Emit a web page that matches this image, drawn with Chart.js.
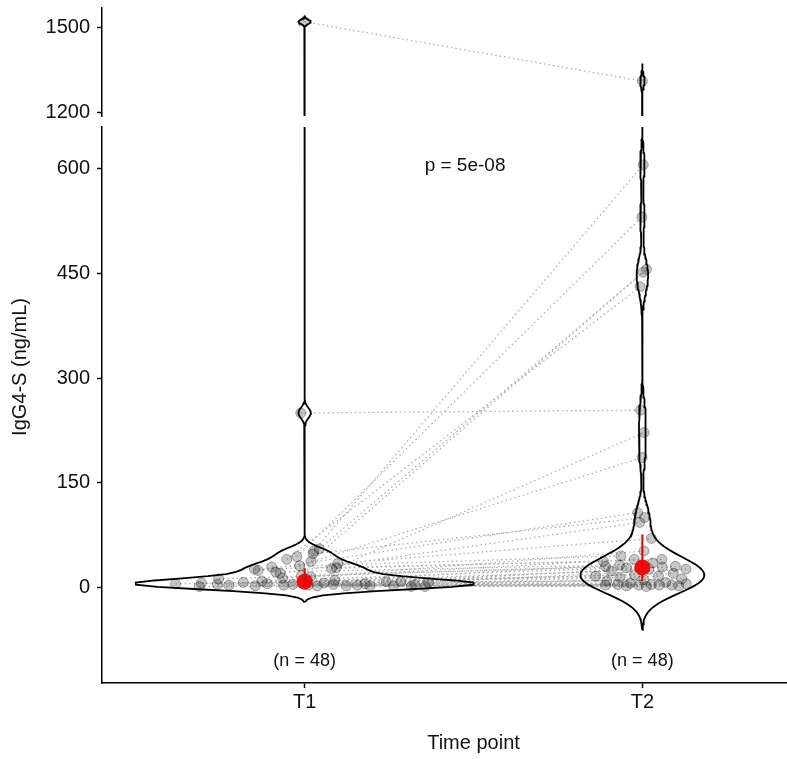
<!DOCTYPE html>
<html>
<head>
<meta charset="utf-8">
<script src="https://cdn.jsdelivr.net/npm/chart.js@4.4.0/dist/chart.umd.min.js"></script>
<style>
  html, body { margin: 0; padding: 0; background: #fff; overflow: hidden; }
  #wrap { position: relative; width: 787px; height: 759px; overflow: hidden; }
  #wrap canvas { position: absolute; left: 0; top: 0; }
</style>
</head>
<body>
<div id="wrap">
  <canvas id="bottomChart" width="853" height="759"></canvas>
  <canvas id="topChart" width="853" height="759"></canvas>
</div>
<script>
// Categorias e valores pareados (mesmo indice = mesmo individuo)
const groups = ['T1', 'T2'];
const t1Values = [1520, 250, 52, 44, 55, 37, 40, 28, 31, 24, 48, 20, 34, 15, 29, 27, 13, 26, 10, 22, 8, 17, 12, 5,
                  9, 7, 6, 4, 8, 3, 5, 2, 7, 4, 3, 6, 2, 5, 1, 4, 3, 2, 4, 1, 3, 2, 1, 2];
const t2Values = [1310, 254, 606, 531, 456, 452, 431, 222, 186, 107, 100, 93, 70, 52, 45, 40, 40, 37, 35, 32, 30, 30, 30, 29,
                  28, 26, 26, 23, 20, 18, 16, 16, 14, 12, 11, 9, 7, 6, 5, 4, 4, 3, 3, 3, 3, 2, 2, 1];
const bottomTicks = [0, 150, 300, 450, 600];
const topTicks = [1200, 1500];
const pLabel = 'p = 5e-08';
const yTitle = 'IgG4-S (ng/mL)';
const xTitle = 'Time point';

const series = [t1Values, t2Values];
const FONT = '"Liberation Sans", Arial, sans-serif';
Chart.defaults.font.family = FONT;
Chart.defaults.color = '#111';

// Estatisticas
function quantile(v, p) {
  const s = [...v].sort((a, b) => a - b);
  const h = (s.length - 1) * p;
  const lo = Math.floor(h);
  const hi = Math.min(lo + 1, s.length - 1);
  return s[lo] + (h - lo) * (s[hi] - s[lo]);
}
function bwNrd0(v) {
  const n = v.length;
  const mean = v.reduce((a, b) => a + b, 0) / n;
  const sd = Math.sqrt(v.reduce((a, b) => a + (b - mean) ** 2, 0) / (n - 1));
  const iqr = quantile(v, 0.75) - quantile(v, 0.25);
  const lo = Math.min(sd, iqr / 1.34) || sd || 1;
  return 0.9 * lo * Math.pow(n, -0.2);
}
function densityAt(v, bw, y) {
  let d = 0;
  for (const x of v) { const z = (y - x) / bw; d += Math.exp(-0.5 * z * z); }
  return d / (v.length * bw * Math.sqrt(2 * Math.PI));
}

// Densidade de cada grupo (violino sem corte, 512 pontos como no ggplot)
const dens = series.map(v => {
  const bw = bwNrd0(v);
  const from = Math.min(...v) - 3 * bw, to = Math.max(...v) + 3 * bw;
  const grid = [];
  for (let i = 0; i < 512; i++) {
    const y = from + (to - from) * i / 511;
    grid.push({ y, d: densityAt(v, bw, y) });
  }
  return { bw, grid };
});
const maxDens = Math.max(...dens.flatMap(g => g.grid.map(p => p.d)));
const HALF = 0.5;

const violinData = dens.map((g, gi) => {
  const c = gi + 1;
  const right = g.grid.map(p => ({ x: c + p.d / maxDens * HALF, y: p.y }));
  const left = g.grid.slice().reverse().map(p => ({ x: c - p.d / maxDens * HALF, y: p.y }));
  return right.concat(left, [right[0]]);
});

// Deslocamento tipo "sina" (deterministico)
const pointData = series.map((v, gi) => v.map((val, i) => {
  const u = ((0.5 + i * 0.6180339887) % 1) * 2 - 1;
  const w = densityAt(v, dens[gi].bw, val) / maxDens * HALF;
  return { x: gi + 1 + u * 0.82 * w, y: val };
}));

const pairData = [];
t1Values.forEach((_, i) => {
  pairData.push(pointData[0][i], pointData[1][i], { x: 1.5, y: null });
});

const medianData = series.map((v, gi) => ({ x: gi + 1, y: quantile(v, 0.5) }));
const iqrData = [];
series.forEach((v, gi) => {
  iqrData.push({ x: gi + 1, y: quantile(v, 0.25) }, { x: gi + 1, y: quantile(v, 0.75) }, { x: 1.5, y: null });
});

function makeDatasets() {
  const ds = [
    { data: pairData, showLine: true, pointRadius: 0, borderColor: 'rgba(160,160,160,0.85)',
      borderWidth: 1.3, borderDash: [1.5, 3], spanGaps: false, order: 4 },
  ];
  violinData.forEach(v => ds.push({ data: v, showLine: true, pointRadius: 0, borderColor: '#000',
    borderWidth: 1.8, fill: false, order: 3 }));
  pointData.forEach(p => ds.push({ data: p, pointRadius: 5, backgroundColor: 'rgba(0,0,0,0.22)',
    borderColor: 'rgba(0,0,0,0.3)', borderWidth: 1, order: 2 }));
  ds.push({ data: iqrData, showLine: true, pointRadius: 0, borderColor: '#e00000', borderWidth: 2,
    spanGaps: false, order: 1 });
  ds.push({ data: medianData, pointRadius: 8, backgroundColor: 'rgba(240,0,0,0.92)', borderWidth: 0, order: 0 });
  return ds;
}

function yAxis(min, max, ticks) {
  return {
    min, max,
    afterBuildTicks: s => { s.ticks = ticks.map(v => ({ value: v })); },
    afterFit: s => { s.width = 102; s.paddingTop = 0; s.paddingBottom = 0; },
    grid: { display: true, drawOnChartArea: false, drawTicks: true, tickLength: 5, tickColor: '#000', tickWidth: 1.5 },
    border: { display: true, color: '#000', width: 1.5 },
    ticks: { callback: v => String(v), font: { size: 20 }, color: '#111', padding: 7 }
  };
}

const xBase = {
  type: 'linear', min: 0.4, max: 2.6,
  afterBuildTicks: s => { s.ticks = groups.map((g, i) => ({ value: i + 1 })); },
  ticks: { callback: v => groups[v - 1] || '', font: { size: 20 }, color: '#111', padding: 2 },
};

// Legendas de texto do painel inferior
const annotate = {
  id: 'annotate',
  afterDatasetsDraw(chart) {
    const { ctx, scales: { x, y } } = chart;
    ctx.save();
    ctx.fillStyle = '#111';
    ctx.textAlign = 'center';
    ctx.textBaseline = 'middle';
    ctx.font = '19px ' + FONT;
    ctx.fillText(pLabel, x.getPixelForValue(1.475), y.getPixelForValue(604));
    ctx.font = '18px ' + FONT;
    series.forEach((v, i) => ctx.fillText(`(n = ${v.length})`, x.getPixelForValue(i + 1), y.getPixelForValue(-106)));
    ctx.font = '20px ' + FONT;
    ctx.translate(20, 367);
    ctx.rotate(-Math.PI / 2);
    ctx.fillText(yTitle, 0, 0);
    ctx.restore();
  }
};

const common = {
  responsive: false,
  animation: false,
  plugins: { legend: { display: false }, tooltip: { enabled: false } },
};

new Chart(document.getElementById('bottomChart'), {
  type: 'scatter',
  data: { datasets: makeDatasets() },
  options: {
    ...common,
    layout: { padding: { top: 127, bottom: 0, left: 0, right: 2 } },
    scales: {
      x: {
        ...xBase,
        afterFit: s => { s.height = 76; s.paddingLeft = 0; s.paddingRight = 0; },
        grid: { display: true, drawOnChartArea: false, drawTicks: true, tickLength: 5, tickColor: '#000', tickWidth: 1.5 },
        border: { display: true, color: '#000', width: 1.5 },
        title: { display: true, text: xTitle, font: { size: 20 }, color: '#111', padding: { top: 0, bottom: 4 } }
      },
      y: yAxis(-137.3, 660.2, bottomTicks)
    }
  },
  plugins: [annotate]
});

new Chart(document.getElementById('topChart'), {
  type: 'scatter',
  data: { datasets: makeDatasets() },
  options: {
    ...common,
    layout: { padding: { top: 5, bottom: 643, left: 0, right: 2 } },
    scales: {
      x: { ...xBase, display: false },
      y: yAxis(1186, 1569, topTicks)
    }
  }
});
</script>
</body>
</html>
